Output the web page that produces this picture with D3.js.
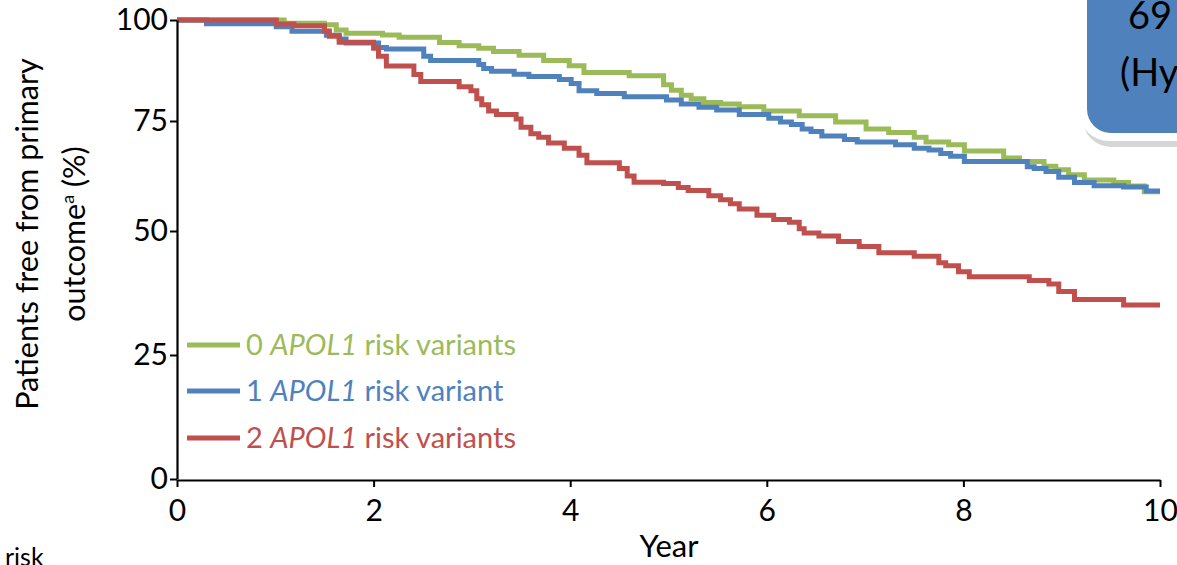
<!DOCTYPE html>
<html>
<head>
<meta charset="utf-8">
<script src="https://cdn.jsdelivr.net/npm/d3@7"></script>
<style>
  body { margin: 0; background: #fff; }
  svg { display: block; font-family: Lato, "Open Sans", sans-serif; }
</style>
</head>
<body>
<div id="chart"></div>
<script>
// survival curves: [year, % free from primary outcome]
const green = [[0,100],[1.09,99.2],[1.5,98.8],[1.62,97.5],[1.72,96.7],[2.09,96.3],[2.26,95.7],[2.67,94.4],[2.87,93.6],[3.07,93],[3.22,92.2],[3.48,91.3],[3.73,90],[3.99,88.7],[4.14,87],[4.6,86.2],[4.95,84],[5.03,82.6],[5.13,81.4],[5.23,80.5],[5.36,79.6],[5.53,79.2],[5.72,78.5],[5.97,77.5],[6.33,76.3],[6.7,74.8],[7.01,73.2],[7.24,72.4],[7.5,71.3],[7.62,70.2],[7.85,69.6],[8.01,68.2],[8.41,66.6],[8.57,65.8],[8.82,64.7],[8.94,63.9],[9.07,62.8],[9.23,61.6],[9.53,61],[9.68,60.2],[9.84,58.9],[10,58.9]];
const blue = [[0,100],[0.3,99.1],[1.01,98.3],[1.17,97.2],[1.52,96.2],[1.65,95.3],[1.72,94.3],[2.05,93.2],[2.13,92.8],[2.51,91],[2.58,90],[3.07,89],[3.12,88],[3.2,87.3],[3.43,86.6],[3.58,86],[3.89,85.3],[4.01,84.3],[4.09,82.5],[4.27,81.8],[4.55,81],[4.98,80.2],[5.13,79.2],[5.31,78.4],[5.49,77.7],[5.72,76.6],[6.02,75.7],[6.14,74.8],[6.25,74.2],[6.36,73.2],[6.45,72.6],[6.56,71.6],[6.79,70.8],[6.92,70.2],[7.31,69.6],[7.5,68.8],[7.65,68.4],[7.77,67.6],[7.87,67],[8.01,65.8],[8.65,64.6],[8.72,64.2],[8.84,63.5],[8.97,62.2],[9.13,61],[9.33,60.3],[9.63,60],[9.86,59.1],[10,59.1]];
const red = [[0,100],[1.01,99],[1.19,98.6],[1.5,97.3],[1.55,96],[1.65,94.5],[2.0,93],[2.05,91],[2.13,88.6],[2.41,86.5],[2.48,84.8],[2.87,83.5],[2.99,82.5],[3.05,80.5],[3.1,79],[3.17,77.5],[3.25,76.6],[3.45,75.5],[3.5,73.6],[3.6,72.1],[3.68,71.3],[3.78,70],[3.94,68.8],[4.09,67.2],[4.17,65.5],[4.5,64.2],[4.58,62.5],[4.65,61.1],[4.95,60.8],[5.1,59.9],[5.2,59.2],[5.41,58],[5.53,57.1],[5.63,56.2],[5.72,55],[5.9,53.6],[6.07,52.6],[6.23,52],[6.33,50.5],[6.38,49.6],[6.53,49],[6.73,47.9],[6.94,46.9],[7.14,45.6],[7.5,44.9],[7.75,43.6],[7.82,43],[7.95,41.8],[8.06,40.8],[8.67,40],[8.87,39.3],[8.97,37.8],[9.13,36.2],[9.63,35.1],[10,35.1]];

const xTicks = [0, 2, 4, 6, 8, 10];
const yTicks = [0, 25, 50, 75, 100];
const seriesNames = ["0", "1", "2"];
const seriesRest = [" risk variants", " risk variant", " risk variants"];
const colors = ["#9bbb59", "#4f81bd", "#c0504d"];

const W = 1177, H = 565;

const svg = d3.select("#chart")
    .append("svg")
    .attr("width", W)
    .attr("height", H);

const x = d3.scaleLinear().domain([0, 10]).range([177, 1160]);
// the y ticks in the original are not evenly spaced, so map them piecewise
const y = d3.scaleLinear().domain(yTicks).range([479, 355, 231, 121, 20]);

// curves
const line = d3.line()
    .x(d => x(d[0]))
    .y(d => y(d[1]))
    .curve(d3.curveStepAfter);

[green, blue, red].forEach((s, i) => {
    svg.append("path")
        .datum(s)
        .attr("fill", "none")
        .attr("stroke", colors[i])
        .attr("stroke-width", 5)
        .attr("d", line);
});

// axes
const xAxis = svg.append("g")
    .attr("transform", "translate(0,480)")
    .call(d3.axisBottom(x).tickValues(xTicks).tickSize(7).tickSizeOuter(0));

const yAxis = svg.append("g")
    .attr("transform", "translate(177,0)")
    .call(d3.axisLeft(y).tickValues(yTicks).tickSize(7).tickSizeOuter(0));

[xAxis, yAxis].forEach(g => {
    g.select(".domain").attr("stroke", "#000").attr("stroke-width", 2.2);
    g.selectAll(".tick line").attr("stroke", "#000").attr("stroke-width", 2);
    g.selectAll(".tick text")
        .attr("fill", "#000")
        .style("font-size", "30px")
        .style("font-family", "Lato, sans-serif");
});
xAxis.selectAll(".tick text").attr("y", 41).attr("dy", null);
yAxis.selectAll(".tick text").attr("x", -9);

// axis titles
svg.append("text")
    .attr("x", 669)
    .attr("y", 557)
    .attr("text-anchor", "middle")
    .style("font-size", "31px")
    .text("Year");

const yLab = svg.append("text")
    .attr("transform", "translate(38,234) rotate(-90)")
    .attr("text-anchor", "middle")
    .style("font-size", "30.5px");
yLab.append("tspan").attr("x", 0).attr("y", 0).text("Patients free from primary");
const l2 = yLab.append("tspan").attr("x", 0).attr("y", 47);
l2.append("tspan").text("outcome");
l2.append("tspan").attr("dy", -11).style("font-size", "18px").text("a");
l2.append("tspan").attr("dy", 11).text(" (%)");

// legend
const legY = [345, 391, 438];
seriesNames.forEach((n, i) => {
    svg.append("line")
        .attr("x1", 187).attr("x2", 240)
        .attr("y1", legY[i]).attr("y2", legY[i])
        .attr("stroke", colors[i])
        .attr("stroke-width", 5);
    const t = svg.append("text")
        .attr("x", 246)
        .attr("y", legY[i] + 10)
        .attr("fill", colors[i])
        .style("font-size", "29px");
    t.append("tspan").text(n + " ");
    t.append("tspan").style("font-style", "italic").text("APOL1");
    t.append("tspan").text(seriesRest[i]);
});

// cut-off callout box at top right
svg.append("rect")
    .attr("x", 1083).attr("y", -40)
    .attr("width", 140).attr("height", 187)
    .attr("rx", 28)
    .attr("fill", "#bbb")
    .attr("opacity", 0.6);
svg.append("rect")
    .attr("x", 1079).attr("y", -40)
    .attr("width", 140).attr("height", 181)
    .attr("rx", 30)
    .attr("fill", "#fff");
svg.append("rect")
    .attr("x", 1087).attr("y", -40)
    .attr("width", 140).attr("height", 173)
    .attr("rx", 24)
    .attr("fill", "#4f81bd");
svg.append("text")
    .attr("x", 1128).attr("y", 29)
    .style("font-size", "38px")
    .text("69");
svg.append("text")
    .attr("x", 1120).attr("y", 86)
    .style("font-size", "38px")
    .text("(Hy");

// cut-off text at bottom left
svg.append("text")
    .attr("x", 5).attr("y", 566)
    .style("font-size", "25px")
    .text("risk");
</script>
</body>
</html>
